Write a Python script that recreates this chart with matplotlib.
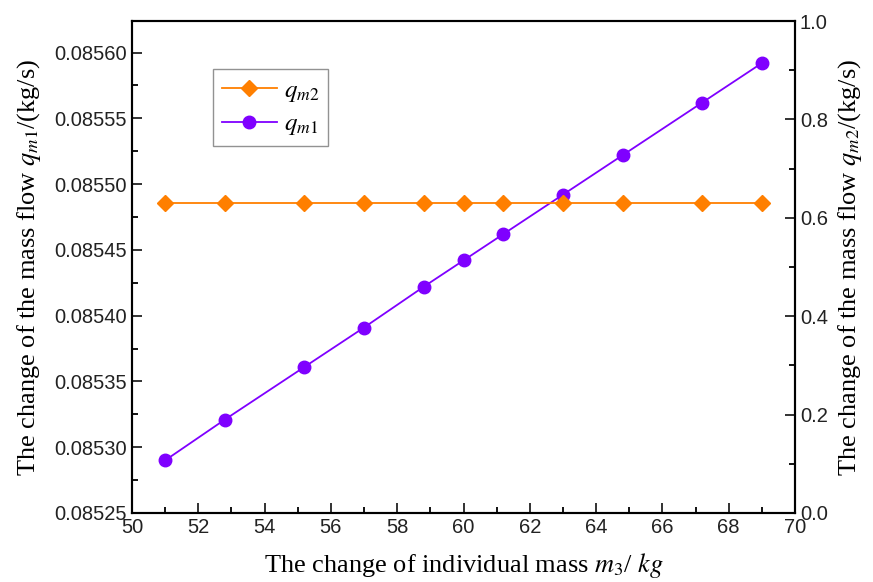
import matplotlib
matplotlib.use("Agg")
import matplotlib.pyplot as plt
from matplotlib.ticker import MultipleLocator, FormatStrFormatter

plt.rcParams['font.family'] = ['Liberation Sans', 'DejaVu Sans']
plt.rcParams['mathtext.fontset'] = 'stix'

# individual mass m3 (kg)
mass = [51, 52.8, 55.2, 57, 58.8, 60, 61.2, 63, 64.8, 67.2, 69]
# mass flow qm1 (kg/s), left axis
qm1 = [0.085290, 0.085321, 0.085361, 0.085391, 0.085422, 0.085442,
       0.085462, 0.085492, 0.085522, 0.085562, 0.085592]
# mass flow qm2 (kg/s), right axis
qm2 = [0.631, 0.631, 0.631, 0.631, 0.631, 0.631,
       0.631, 0.631, 0.631, 0.631, 0.631]

orange = '#ff7f00'
purple = '#7f00ff'
serif = ['Liberation Serif', 'DejaVu Serif']

fig = plt.figure(figsize=(8.73, 5.82), dpi=100)
ax = fig.add_axes([0.1512, 0.1186, 0.7595, 0.8453])
ax2 = ax.twinx()

l1, = ax.plot(mass, qm1, color=purple, lw=1.3, marker='o', ms=9, label=r'$q_{m1}$')
l2, = ax2.plot(mass, qm2, color=orange, lw=1.3, marker='D', ms=8, label=r'$q_{m\mathrm{2}}$')

ax.set_xlim(50, 70)
ax.set_ylim(0.08525, 0.085624)
ax2.set_ylim(0, 1.0)

ax.xaxis.set_major_locator(MultipleLocator(2))
ax.xaxis.set_minor_locator(MultipleLocator(1))
ax.yaxis.set_major_locator(MultipleLocator(0.00005))
ax.yaxis.set_minor_locator(MultipleLocator(0.000025))
ax.yaxis.set_major_formatter(FormatStrFormatter('%.5f'))
ax2.yaxis.set_major_locator(MultipleLocator(0.2))
ax2.yaxis.set_minor_locator(MultipleLocator(0.1))
ax2.yaxis.set_major_formatter(FormatStrFormatter('%.1f'))

for a in (ax, ax2):
    a.tick_params(which='major', direction='in', length=7, width=1.3, labelsize=14.5, colors='#222222')
    a.tick_params(which='minor', direction='in', length=4, width=1.3)
    for s in a.spines.values():
        s.set_linewidth(1.5)
ax.tick_params(axis='y', which='both', right=False)
ax.tick_params(axis='x', which='both', top=False)

ax.set_xlabel(r'The change of individual mass $m_3$/ $kg$', fontsize=19, family=serif, labelpad=10)
ax.set_ylabel(r'The change of the mass flow $q_{m1}$/(kg/s)', fontsize=19, family=serif, labelpad=8)
ax2.set_ylabel(r'The change of the mass flow $q_{m2}$/(kg/s)', fontsize=19, family=serif, labelpad=6)

leg = ax.legend(handles=[l2, l1], loc='upper left', bbox_to_anchor=(0.122, 0.902),
                borderaxespad=0, fontsize=18, frameon=True, fancybox=False, handlelength=2.2,
                borderpad=0.35, labelspacing=0.3, handletextpad=0.3)
leg.get_frame().set_edgecolor('#777777')
leg.get_frame().set_linewidth(1.0)

fig.savefig('out.png', dpi=100)
